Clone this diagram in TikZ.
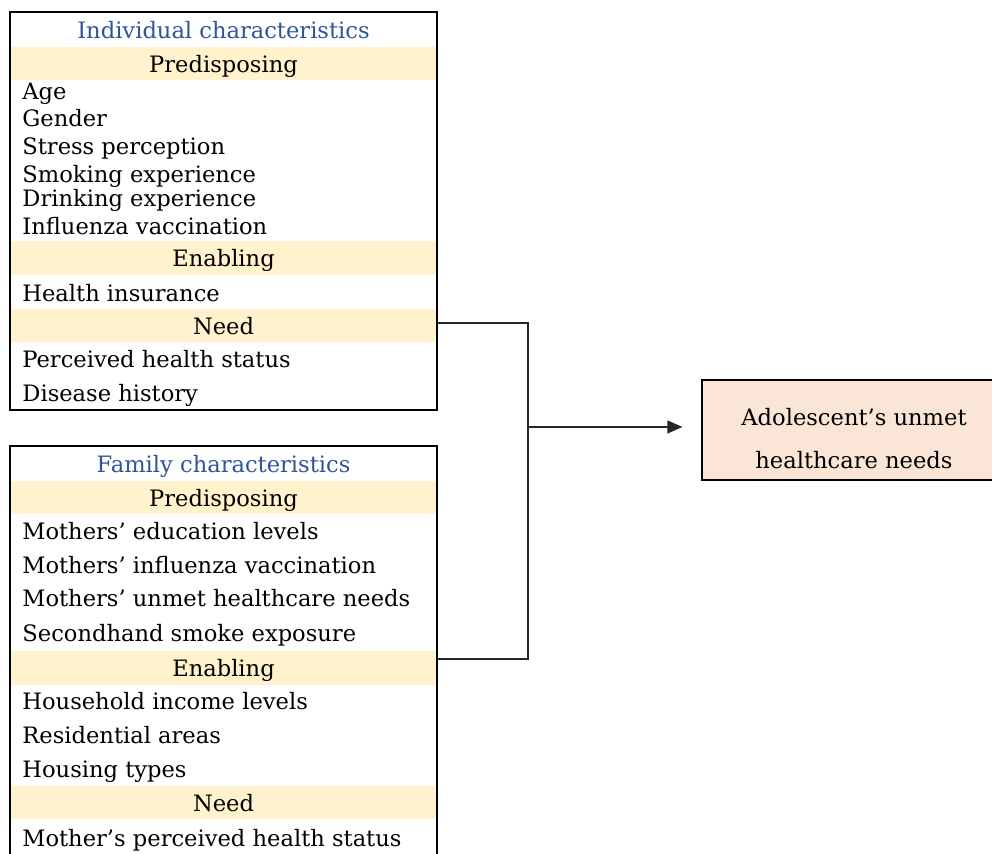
\documentclass[tikz,border=0pt]{standalone}
\usepackage{fontspec}
\setmainfont{DejaVu Serif}
\usepackage{tikz}
\usetikzlibrary{arrows.meta,%
                positioning,%
                calc%
              }
\definecolor{bandyellow}{RGB}{255,242,204}
\definecolor{outpeach}{RGB}{251,229,214}
\definecolor{titleblue}{RGB}{47,85,151}
% baseline/text
\def\indivitems{100/Age, 127/Gender, 155/Stress perception,%
  183/Smoking experience, 207/Drinking experience,%
  235/Influenza vaccination,%
  302/Health insurance,%
  368/Perceived health status, 402/Disease history}
\def\famitems{540/Mothers' education levels,%
  574/Mothers' influenza vaccination,%
  607/Mothers' unmet healthcare needs,%
  642/Secondhand smoke exposure,%
  710/Household income levels, 744/Residential areas,%
  778/Housing types,%
  847/Mother's perceived health status}
% band centre/text
\def\indivbands{63.5/Predisposing, 258/Enabling, 325.5/Need}
\def\fambands{497.5/Predisposing, 668/Enabling, 802.5/Need}

\begin{document}
\begin{tikzpicture}[x=0.5pt,y=-0.5pt,
    every node/.style={font=\fontsize{11.3}{13}\selectfont, inner sep=0pt},
    band/.style={fill=bandyellow, minimum width=213.5pt,
      minimum height=16.75pt, text height=9pt, text depth=0pt},
    outerbox/.style={draw, line width=0.6pt, minimum width=213.5pt},
    outbox/.style={draw, line width=0.6pt, fill=outpeach,
      minimum width=152pt, minimum height=50pt},
    connector/.style={line width=0.6pt, black!85}]

  \useasboundingbox (0,0) rectangle (992,854);
  \clip (0,0) rectangle (992,854);

  % individual characteristics
  \foreach \yc/\txt [count=\n] in \indivbands {%
    \node[band] (indb\n) at (223.5,\yc) {\txt};
  }
  \node[anchor=base, text=titleblue] (indt) at (223.5,39)
    {Individual characteristics};
  \foreach \yb/\txt [count=\n] in \indivitems {%
    \node[anchor=base west] (ind\n) at (22,\yb) {\txt};
  }
  \node[outerbox, minimum height=199pt] (indiv) at (223.5,211) {};

  % family characteristics
  \foreach \yc/\txt [count=\n] in \fambands {%
    \node[band] (famb\n) at (223.5,\yc) {\txt};
  }
  \node[anchor=base, text=titleblue] (famt) at (223.5,473)
    {Family characteristics};
  \foreach \yb/\txt [count=\n] in \famitems {%
    \node[anchor=base west] (fam\n) at (22,\yb) {\txt};
  }
  \node[outerbox, minimum height=217pt] (family) at (223.5,663) {};

  % outcome
  \node[outbox] (outcome) at (854,430) {};
  \node[anchor=base] (outl1) at (854,426) {Adolescent's unmet};
  \node[anchor=base] (outl2) at (854,469) {healthcare needs};

  % connectors
  \coordinate (jtop) at (528,323);
  \coordinate (jbot) at (528,659);
  \coordinate (jmid) at (528,427);
  \draw[connector] (indiv.east |- jtop) -- (jtop) -- (jbot)
    -- (family.east |- jbot);
  \draw[connector, -{Triangle[length=7.5pt,width=6.5pt]},
    shorten >=9.5pt] (jmid) -- (outcome.west |- jmid);

\end{tikzpicture}
\end{document}
